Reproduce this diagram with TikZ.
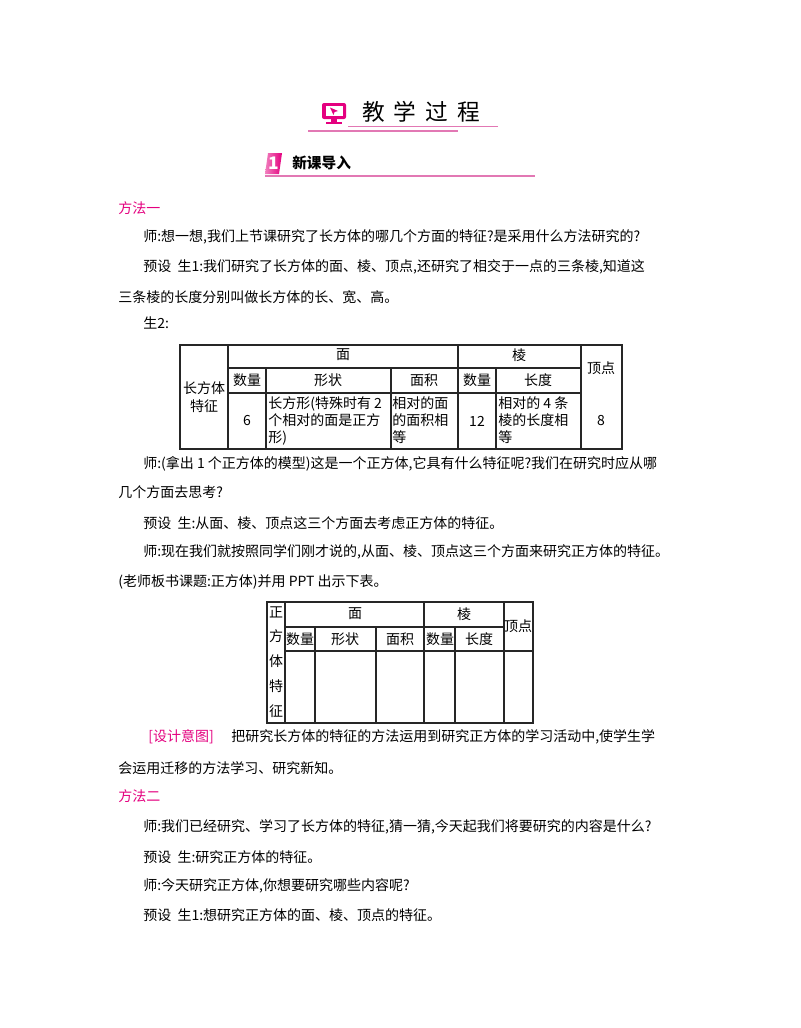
\documentclass[tikz,border=0pt]{standalone}
\usepackage{fontspec}
\setmainfont{Noto Sans CJK SC}
\usetikzlibrary{calc}
\definecolor{pk}{RGB}{228,0,127}
\definecolor{pkl}{RGB}{226,120,180}
\begin{document}
\begin{tikzpicture}[x=0.75pt,y=-0.75pt,
  txt/.style={anchor=west,inner sep=0pt,font=\fontsize{10.5}{12}\selectfont},
  cell/.style={inner sep=0pt,font=\fontsize{10.5}{12}\selectfont},
  mcell/.style={inner sep=0pt,anchor=north west,align=left,font=\fontsize{10.5}{12.75}\selectfont},
  tl/.style={line width=0.9pt,black!85}]
\useasboundingbox[fill=white] (0,0) rectangle (800,1028);
% header icon
\fill[pk,rounded corners=1.5pt] (322,103) rectangle (346,119);
\fill[white] (325.5,106) rectangle (342.5,116);
\fill[pk] (330,107.5) -- (338,111) -- (334.5,112) -- (333.5,115) -- cycle;
\fill[pk] (331,119) rectangle (337,122);
\fill[pk] (326,122) rectangle (342,124);
\node[inner sep=0pt,anchor=west,font=\fontsize{17}{20}\selectfont] (title) at (362,112) {教\hspace{0.4em}学\hspace{0.4em}过\hspace{0.4em}程};
\draw[pkl,line width=1pt] (348,126.5) -- (498,126.5);
\draw[pkl,line width=1pt] (308,131) -- (458,131);
% section badge
\shade[left color=pk!50,right color=pk] (268,153) -- (282,153) -- (279,174) -- (265,174) -- cycle;
\node[inner sep=0pt,text=white,font=\bfseries\itshape\fontsize{13}{13}\selectfont] (one) at (273.5,163.5) {1};
\node[txt,font=\bfseries\fontsize{11}{12}\selectfont] (sec) at (292,163) {新课导入};
\draw[pkl,line width=0.8pt] (265,176) -- (535,176);
% body text
\node[txt,text=pk] (m1) at (118,208) {方法一};
\node[txt] (a1) at (143,237) {师:想一想,我们上节课研究了长方体的哪几个方面的特征?是采用什么方法研究的?};
\node[txt] (a2) at (143,267) {预设\ \ 生1:我们研究了长方体的面、棱、顶点,还研究了相交于一点的三条棱,知道这};
\node[txt] (a3) at (118,297) {三条棱的长度分别叫做长方体的长、宽、高。};
\node[txt] (a4) at (143,323) {生2:};
% table 1
\draw[tl] (180,345) rectangle (622,449);
\draw[tl] (228,345) -- (228,449);
\draw[tl] (458,345) -- (458,449);
\draw[tl] (581,345) -- (581,449);
\draw[tl] (228,368) -- (581,368);
\draw[tl] (228,393) -- (581,393);
\draw[tl] (266,368) -- (266,449);
\draw[tl] (391,368) -- (391,449);
\draw[tl] (496,368) -- (496,449);
\node[cell] (c1) at (343,355) {面};
\node[cell] (c2) at (519,355) {棱};
\node[cell] (c3) at (601,368) {顶点};
\node[cell,align=center,font=\fontsize{10.5}{13}\selectfont] (c4) at (204,397) {长方体\\特征};
\node[cell] (c5) at (247,380) {数量};
\node[cell] (c6) at (328,380) {形状};
\node[cell] (c7) at (424,380) {面积};
\node[cell] (c8) at (477,380) {数量};
\node[cell] (c9) at (538,380) {长度};
\node[cell] (c10) at (247,421) {6};
\node[mcell] (c11) at (268,396) {长方形(特殊时有 2\\个相对的面是正方\\形)};
\node[mcell] (c12) at (392,396) {相对的面\\的面积相\\等};
\node[cell] (c13) at (477,421) {12};
\node[mcell] (c14) at (498,396) {相对的 4 条\\棱的长度相\\等};
\node[cell] (c15) at (601,421) {8};
% more text
\node[txt] (b1) at (143,464) {师:(拿出 1 个正方体的模型)这是一个正方体,它具有什么特征呢?我们在研究时应从哪};
\node[txt] (b2) at (118,492) {几个方面去思考?};
\node[txt] (b3) at (143,523) {预设\ \ 生:从面、棱、顶点这三个方面去考虑正方体的特征。};
\node[txt] (b4) at (143,552) {师:现在我们就按照同学们刚才说的,从面、棱、顶点这三个方面来研究正方体的特征。};
\node[txt] (b5) at (118,582) {(老师板书课题:正方体)并用 PPT 出示下表。};
% table 2
\draw[tl] (267,602) rectangle (533,723);
\draw[tl] (285,602) -- (285,723);
\draw[tl] (424,602) -- (424,723);
\draw[tl] (504,602) -- (504,723);
\draw[tl] (285,627) -- (504,627);
\draw[tl] (285,651) -- (533,651);
\draw[tl] (315,627) -- (315,723);
\draw[tl] (376,627) -- (376,723);
\draw[tl] (455,627) -- (455,723);
\foreach \ch/\yy [count=\i] in {正/612,方/636,体/661,特/686,征/711}
  \node[cell] (v\i) at (276,\yy) {\ch};
\node[cell] (d1) at (355,614) {面};
\node[cell] (d2) at (464,614) {棱};
\node[cell] (d3) at (518,626) {顶点};
\node[cell] (d4) at (300,639) {数量};
\node[cell] (d5) at (345,639) {形状};
\node[cell] (d6) at (400,639) {面积};
\node[cell] (d7) at (440,639) {数量};
\node[cell] (d8) at (479,639) {长度};
% design intent
\node[txt,text=pk] (e0) at (148,737) {[设计意图]};
\node[txt] (e1) at (231,737) {把研究长方体的特征的方法运用到研究正方体的学习活动中,使学生学};
\node[txt] (e2) at (118,768) {会运用迁移的方法学习、研究新知。};
\node[txt,text=pk] (m2) at (118,796) {方法二};
\node[txt] (f1) at (143,827) {师:我们已经研究、学习了长方体的特征,猜一猜,今天起我们将要研究的内容是什么?};
\node[txt] (f2) at (143,857) {预设\ \ 生:研究正方体的特征。};
\node[txt] (f3) at (143,886) {师:今天研究正方体,你想要研究哪些内容呢?};
\node[txt] (f4) at (143,915) {预设\ \ 生1:想研究正方体的面、棱、顶点的特征。};
\end{tikzpicture}
\end{document}
